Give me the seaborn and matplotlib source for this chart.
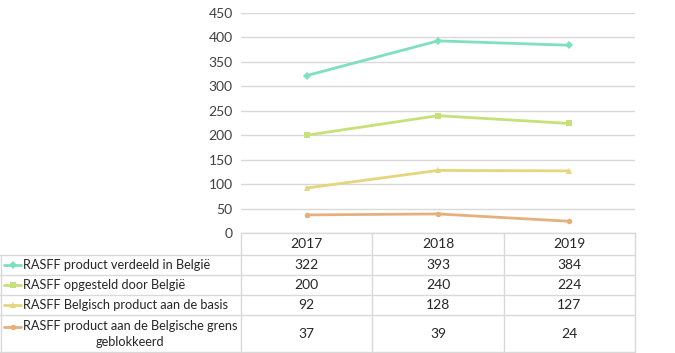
import matplotlib
matplotlib.use("Agg")
import matplotlib.pyplot as plt
import matplotlib.transforms as mtransforms
from matplotlib.lines import Line2D
import seaborn as sns
import pandas as pd

years = ["2017", "2018", "2019"]
series_names = [
    "RASFF product verdeeld in België",
    "RASFF opgesteld door België",
    "RASFF Belgisch product aan de basis",
    "RASFF product aan de Belgische grens\ngeblokkeerd",
]
verdeeld = [322, 393, 384]
opgesteld = [200, 240, 224]
basis = [92, 128, 127]
grens = [37, 39, 24]
all_values = [verdeeld, opgesteld, basis, grens]
colors = ["#7fe0bf", "#c6e07a", "#e3d67d", "#e6b07e"]
markers = ["D", "s", "^", "o"]
yticks = [0, 50, 100, 150, 200, 250, 300, 350, 400, 450]

sns.set_theme(style="white")
plt.rcParams["font.family"] = ["Lato", "DejaVu Sans"]

rows = []
for name, vals in zip(series_names, all_values):
    for y, v in zip(years, vals):
        rows.append({"series": name, "year": y, "value": v})
df = pd.DataFrame(rows)

W, H = 675, 353
fig = plt.figure(figsize=(W / 100, H / 100), dpi=100)
fig.patch.set_facecolor("white")
ax_left, ax_right, ax_top, ax_bot = 241, 635, 13, 233
ax = fig.add_axes([ax_left / W, 1 - ax_bot / H, (ax_right - ax_left) / W, (ax_bot - ax_top) / H])

sns.lineplot(data=df, x="year", y="value", hue="series", style="series",
             palette=dict(zip(series_names, colors)),
             markers=dict(zip(series_names, markers)),
             dashes=False, linewidth=2, markersize=4, markeredgewidth=0,
             legend=False, ax=ax, sort=False)

ax.set_xlim(-0.5, 2.5)
ax.set_ylim(0, 450)
ax.set_yticks(yticks)
fs = 10
lfs = 9.2
ax.set_yticklabels([str(t) for t in yticks], fontsize=fs, color="#404040")
ax.tick_params(axis="y", length=0, pad=6)
ax.set_xticks([])
ax.set_xlabel("")
ax.set_ylabel("")
ax.grid(axis="y", color="#d9d9d9", linewidth=1)
for s in ax.spines.values():
    s.set_visible(False)

# data table
grid_c = "#d9d9d9"
def fy(py):
    return 1 - py / H
def fx(px):
    return px / W
def hline(x0, x1, y):
    fig.add_artist(Line2D([fx(x0), fx(x1)], [fy(y), fy(y)], color=grid_c, lw=1, transform=fig.transFigure))
def vline(x, y0, y1):
    fig.add_artist(Line2D([fx(x), fx(x)], [fy(y0), fy(y1)], color=grid_c, lw=1, transform=fig.transFigure))

row_edges = [233, 255, 275, 295, 315, 352]
col_edges = [241, 372, 504, 635]
hline(241, 635, 233)
for y in row_edges[1:]:
    hline(0, 635, y)
for x in col_edges:
    vline(x, 233, 352)
vline(0.5, 255, 352)

blend = mtransforms.blended_transform_factory(ax.transData, fig.transFigure)
tc = "#262626"
for i, y in enumerate(years):
    fig.text(i, fy((233 + 255) / 2), y, transform=blend, ha="center", va="center", fontsize=fs, color=tc)

for r, (name, vals, c, m) in enumerate(zip(series_names, all_values, colors, markers)):
    yc = (row_edges[r + 1] + row_edges[r + 2]) / 2
    ky = yc if "\n" not in name else yc - 7
    fig.add_artist(Line2D([fx(4), fx(21)], [fy(ky), fy(ky)], color=c, lw=2, transform=fig.transFigure))
    fig.add_artist(Line2D([fx(12.5)], [fy(ky)], color=c, marker=m, markersize=4, markeredgewidth=0,
                          transform=fig.transFigure))
    if "\n" in name:
        fig.text(fx(23), fy(yc), name, ha="left", va="center", fontsize=lfs, color=tc,
                 multialignment="center", linespacing=1.4)
    else:
        fig.text(fx(23), fy(yc), name, ha="left", va="center", fontsize=lfs, color=tc)
    for i, v in enumerate(vals):
        fig.text(i, fy(yc), str(v), transform=blend, ha="center", va="center", fontsize=fs, color=tc)

fig.savefig("out.png", dpi=100, facecolor="white")
